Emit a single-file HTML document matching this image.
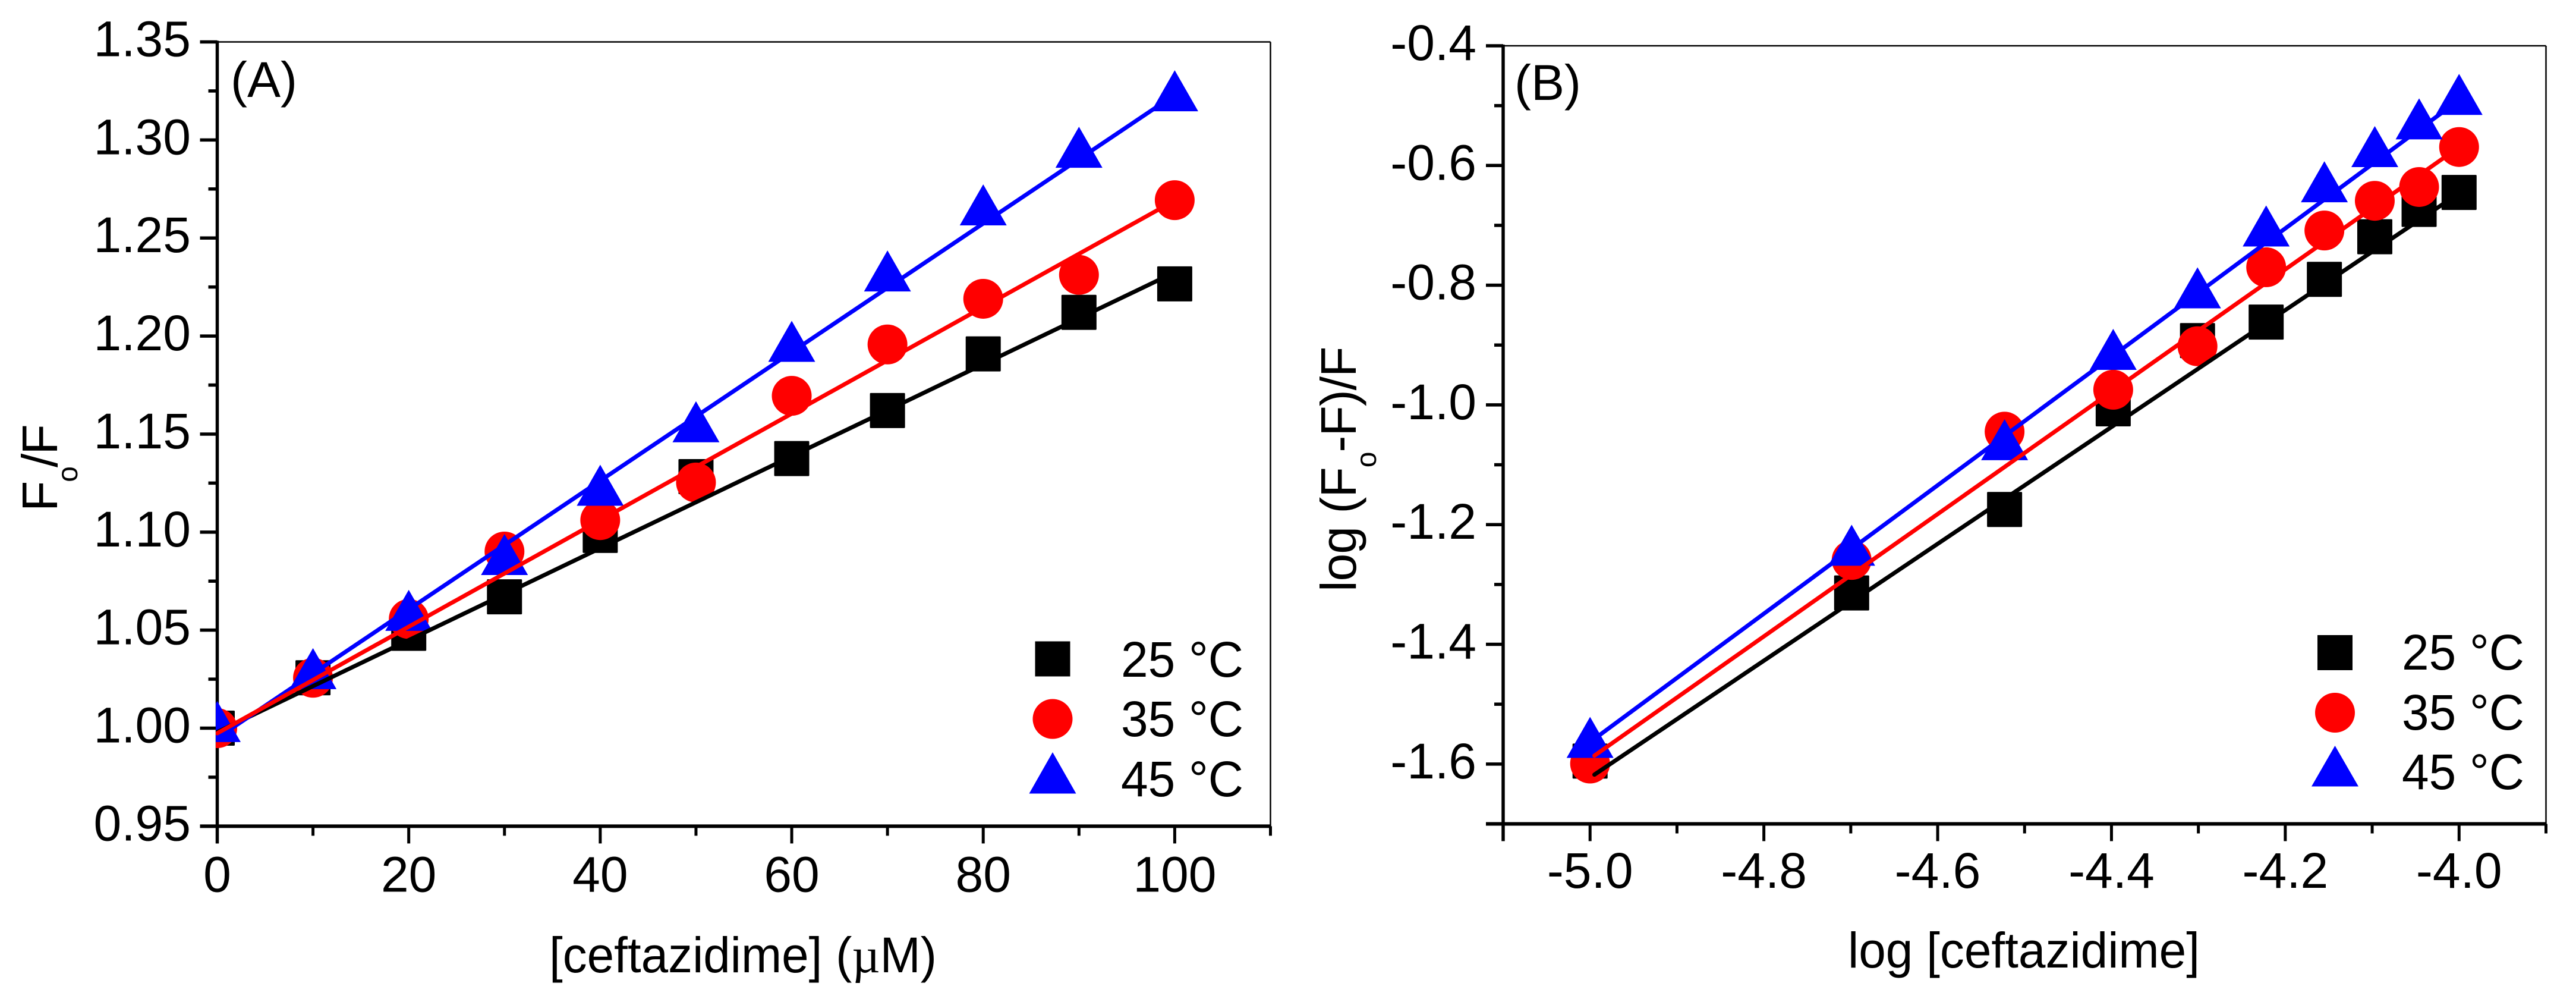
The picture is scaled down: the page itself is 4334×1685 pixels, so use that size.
<!DOCTYPE html>
<html lang="en">
<head>
<meta charset="utf-8">
<title>Ceftazidime fluorescence quenching plots</title>
<style>
html,body{margin:0;padding:0;background:#fff;}
svg{display:block;}
text{font-family:"Liberation Sans",Arial,sans-serif;font-size:84px;fill:#000;}
.mu{font-family:"Liberation Serif",serif;}
</style>
</head>
<body>
<svg id="chart" xmlns="http://www.w3.org/2000/svg" width="4334" height="1685" viewBox="0 0 4334 1685">
  <defs>
    <clipPath id="plotClipA"><rect x="363" y="69" width="1776" height="1321"/></clipPath>
    <clipPath id="plotClipB"><rect x="2526" y="75" width="1759" height="1311"/></clipPath>
  </defs>
  <rect x="0" y="0" width="4334" height="1685" fill="#ffffff"/>
  <g id="panelA"></g>
  <g id="panelB"></g>

  <text x="388" y="163">(A)</text>
  <text x="924" y="1635" textLength="652" lengthAdjust="spacingAndGlyphs">[ceftazidime] (<tspan class="mu">µ</tspan>M)</text>
  <text letter-spacing="-2" transform="translate(96 860) rotate(-90)">F<tspan font-size="48" dy="34">o</tspan><tspan dy="-34">/F</tspan></text>

  <g>
    <rect x="1741.5" y="1078.5" width="59" height="59" fill="#000"/>
    <text x="1886" y="1138" textLength="206" lengthAdjust="spacingAndGlyphs">25 °C</text>
    <circle cx="1771" cy="1209" r="33.5" fill="#f00"/>
    <text x="1886" y="1238" textLength="206" lengthAdjust="spacingAndGlyphs">35 °C</text>
    <polygon points="1771,1265 1810.5,1334.5 1731.5,1334.5" fill="#00f"/>
    <text x="1886" y="1339" textLength="206" lengthAdjust="spacingAndGlyphs">45 °C</text>
  </g>

  <text x="2548" y="168">(B)</text>
  <text x="3109" y="1627" textLength="592" lengthAdjust="spacingAndGlyphs">log [ceftazidime]</text>
  <text letter-spacing="-1" transform="translate(2281 995) rotate(-90)">log (F<tspan font-size="48" dy="34">o</tspan><tspan dy="-34">-F)/F</tspan></text>

  <g>
    <rect x="3899" y="1068" width="59" height="59" fill="#000"/>
    <text x="4041" y="1126" textLength="206" lengthAdjust="spacingAndGlyphs">25 °C</text>
    <circle cx="3928.5" cy="1198.5" r="33.5" fill="#f00"/>
    <text x="4041" y="1227" textLength="206" lengthAdjust="spacingAndGlyphs">35 °C</text>
    <polygon points="3928.5,1254 3968,1322.5 3889,1322.5" fill="#00f"/>
    <text x="4041" y="1327" textLength="206" lengthAdjust="spacingAndGlyphs">45 °C</text>
  </g>
</svg>

<script>
// Panel A data
const concA = [0, 10, 20, 30, 40, 50, 60, 70, 80, 90, 100];
const a25 = [1.000, 1.0257, 1.0484, 1.067, 1.0983, 1.1283, 1.1375, 1.162, 1.1909, 1.2121, 1.2266];
const a35 = [1.000, 1.0257, 1.0557, 1.0901, 1.1061, 1.1253, 1.1695, 1.1957, 1.219, 1.2312, 1.2693];
const a45 = [0.9999, 1.0269, 1.0566, 1.0851, 1.1204, 1.1528, 1.1938, 1.2297, 1.2634, 1.2928, 1.3216];
const aFitX = [0, 100];
const aFit25 = [0.998, 1.2325];
const aFit35 = [0.9974, 1.2691];
const aFit45 = [0.995, 1.323];
const aXTicks = [0, 20, 40, 60, 80, 100];
const aXTickLabels = ['0', '20', '40', '60', '80', '100'];
const aXMinor = [10, 30, 50, 70, 90, 110];
const aYTicks = [0.95, 1.00, 1.05, 1.10, 1.15, 1.20, 1.25, 1.30, 1.35];
const aYTickLabels = ['0.95', '1.00', '1.05', '1.10', '1.15', '1.20', '1.25', '1.30', '1.35'];
const aYMinor = [0.975, 1.025, 1.075, 1.125, 1.175, 1.225, 1.275, 1.325];

// Panel B data
const logConcB = [-5, -4.699, -4.523, -4.398, -4.301, -4.222, -4.155, -4.097, -4.046, -4];
const b25 = [-1.595, -1.3141, -1.1747, -1.0065, -0.8925, -0.8616, -0.7902, -0.7191, -0.6733, -0.645];
const b35 = [-1.5992, -1.259, -1.0447, -0.9746, -0.902, -0.77, -0.7086, -0.659, -0.6359, -0.5691];
const b45 = [-1.5669, -1.2458, -1.0695, -0.9186, -0.8158, -0.7124, -0.6386, -0.5798, -0.5335, -0.4926];
const bFitX = [-4.995, -4];
const bFit25 = [-1.6177, -0.6464];
const bFit35 = [-1.586, -0.5692];
const bFit45 = [-1.558, -0.4906];
const bXTicks = [-5.0, -4.8, -4.6, -4.4, -4.2, -4.0];
const bXTickLabels = ['-5.0', '-4.8', '-4.6', '-4.4', '-4.2', '-4.0'];
const bXMinor = [-5.1, -4.9, -4.7, -4.5, -4.3, -4.1, -3.9];
const bYTicks = [-1.6, -1.4, -1.2, -1.0, -0.8, -0.6, -0.4];
const bYTickLabels = ['-1.6', '-1.4', '-1.2', '-1.0', '-0.8', '-0.6', '-0.4'];
const bYMinor = [-1.7, -1.5, -1.3, -1.1, -0.9, -0.7, -0.5];

const NS = 'http://www.w3.org/2000/svg';
function make(parent, tag, props) {
  const node = document.createElementNS(NS, tag);
  for (const k in props) node.setAttribute(k, props[k]);
  parent.appendChild(node);
  return node;
}
function linear(d0, d1, p0, p1) {
  return function (v) { return p0 + (v - d0) / (d1 - d0) * (p1 - p0); };
}

function drawAxes(g, sx, sy, box, xTicks, xLabels, xMinor, yTicks, yLabels, yMinor) {
  const frameTop = make(g, 'line', {x1: box.l, y1: box.t, x2: box.r, y2: box.t, stroke: '#000', 'stroke-width': 2.5});
  
  
  const frameRight = make(g, 'line', {x1: box.r, y1: box.t, x2: box.r, y2: box.b, stroke: '#000', 'stroke-width': 2.5});
  
  
  const axisY = make(g, 'line', {x1: box.l, y1: box.t - 2, x2: box.l, y2: box.b + 29, stroke: '#000', 'stroke-width': 5.5});
  
  
  const axisX = make(g, 'line', {x1: box.l - 29, y1: box.b, x2: box.r + 1, y2: box.b, stroke: '#000', 'stroke-width': 6});
  
  

  xTicks.forEach(function (v, i) {
    const x = sx(v);
    const t = make(g, 'line', {x1: x, y1: box.b, x2: x, y2: box.b + 29, stroke: '#000', 'stroke-width': 5});
    
    
    const lab = make(g, 'text', {x: x, y: box.b + box.xLabelGap, 'text-anchor': 'middle'});
    lab.textContent = xLabels[i];
    
    
  });
  xMinor.forEach(function (v) {
    const x = sx(v);
    const t = make(g, 'line', {x1: x, y1: box.b, x2: x, y2: box.b + 16, stroke: '#000', 'stroke-width': 5});
    
    
  });
  yTicks.forEach(function (v, i) {
    const y = sy(v);
    const t = make(g, 'line', {x1: box.l - 29, y1: y, x2: box.l, y2: y, stroke: '#000', 'stroke-width': 5.5});
    
    
    const lab = make(g, 'text', {x: box.yLabelRight, y: y + 24, 'text-anchor': 'end'});
    lab.textContent = yLabels[i];
    
    
  });
  yMinor.forEach(function (v) {
    const y = sy(v);
    const t = make(g, 'line', {x1: box.l - 15, y1: y, x2: box.l, y2: y, stroke: '#000', 'stroke-width': 5.5});
    
    
  });
}

function drawSquares(g, sx, sy, xs, ys) {
  xs.forEach(function (v, i) {
    const m = make(g, 'rect', {x: sx(v) - 29.5, y: sy(ys[i]) - 29.5, width: 59, height: 59, rx: 1.5, fill: '#000'});
    
    
  });
}
function drawCircles(g, sx, sy, xs, ys) {
  xs.forEach(function (v, i) {
    const m = make(g, 'circle', {cx: sx(v), cy: sy(ys[i]), r: 33.5, fill: '#f00'});
    
    
  });
}
function drawTriangles(g, sx, sy, xs, ys) {
  xs.forEach(function (v, i) {
    const x = sx(v), y = sy(ys[i]);
    const pts = x + ',' + (y - 46) + ' ' + (x + 39.5) + ',' + (y + 23) + ' ' + (x - 39.5) + ',' + (y + 23);
    const m = make(g, 'polygon', {points: pts, fill: '#00f'});
    
    
  });
}
function drawFit(g, sx, sy, xs, ys, color, name) {
  const l = make(g, 'line', {x1: sx(xs[0]), y1: sy(ys[0]), x2: sx(xs[1]), y2: sy(ys[1]), stroke: color, 'stroke-width': 7, 'stroke-linecap': 'round'});
  
  
}

// Panel A
const gA = document.getElementById('panelA');
const boxA = {l: 365.5, r: 2137.5, t: 70.5, b: 1389.4, xLabelGap: 110, yLabelRight: 321};
const sxA = linear(0, 110, boxA.l, boxA.r);
const syA = linear(0.95, 1.35, boxA.b, boxA.t);
drawAxes(gA, sxA, syA, boxA, aXTicks, aXTickLabels, aXMinor, aYTicks, aYTickLabels, aYMinor);
const plotA = make(gA, 'g', {'clip-path': 'url(#plotClipA)'});


drawSquares(plotA, sxA, syA, concA, a25);
drawCircles(plotA, sxA, syA, concA, a35);
drawTriangles(plotA, sxA, syA, concA, a45);
drawFit(plotA, sxA, syA, aFitX, aFit25, '#000', 'fit-line-25c');
drawFit(plotA, sxA, syA, aFitX, aFit45, '#00f', 'fit-line-45c');
drawFit(plotA, sxA, syA, aFitX, aFit35, '#f00', 'fit-line-35c');

// Panel B
const gB = document.getElementById('panelB');
const boxB = {l: 2529, r: 4283.5, t: 77, b: 1385.5, xLabelGap: 107.5, yLabelRight: 2484};
const sxB = linear(-5.1, -3.9, boxB.l, boxB.r);
const syB = linear(-1.7, -0.4, boxB.b, boxB.t);
drawAxes(gB, sxB, syB, boxB, bXTicks, bXTickLabels, bXMinor, bYTicks, bYTickLabels, bYMinor);
const plotB = make(gB, 'g', {'clip-path': 'url(#plotClipB)'});


drawSquares(plotB, sxB, syB, logConcB, b25);
drawCircles(plotB, sxB, syB, logConcB, b35);
drawTriangles(plotB, sxB, syB, logConcB, b45);
drawFit(plotB, sxB, syB, bFitX, bFit25, '#000', 'fit-line-25c');
drawFit(plotB, sxB, syB, bFitX, bFit45, '#00f', 'fit-line-45c');
drawFit(plotB, sxB, syB, bFitX, bFit35, '#f00', 'fit-line-35c');
</script>
</body>
</html>
